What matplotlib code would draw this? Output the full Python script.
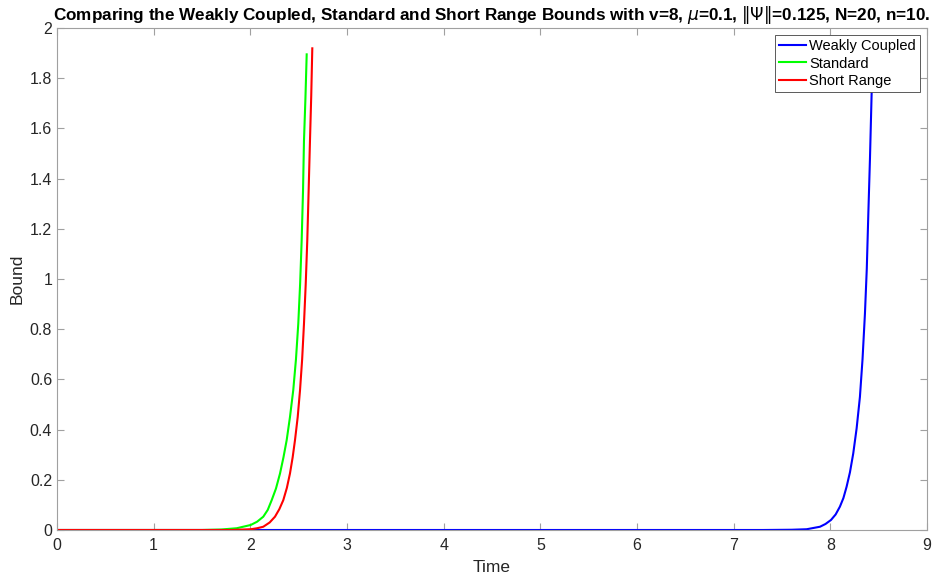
import matplotlib
matplotlib.use('Agg')
import matplotlib.pyplot as plt

# curve samples (time, bound)
std_t = [0, 1.5, 1.7, 1.859, 2.004, 2.07, 2.134, 2.18, 2.221, 2.265, 2.307, 2.343, 2.376, 2.41, 2.444, 2.472, 2.496, 2.515, 2.531, 2.545, 2.555, 2.57, 2.583]
std_b = [0, 0, 0.002, 0.007, 0.020, 0.033, 0.053, 0.08, 0.119, 0.165, 0.225, 0.29, 0.358, 0.45, 0.557, 0.68, 0.822, 0.98, 1.153, 1.35, 1.551, 1.72, 1.895]

sr_t = [0, 1.8, 2.004, 2.07, 2.134, 2.2, 2.255, 2.3, 2.341, 2.378, 2.41, 2.438, 2.462, 2.49, 2.514, 2.536, 2.555, 2.573, 2.589, 2.603, 2.617, 2.63, 2.641]
sr_b = [0, 0, 0.003, 0.007, 0.013, 0.03, 0.053, 0.083, 0.119, 0.168, 0.225, 0.29, 0.358, 0.45, 0.557, 0.68, 0.822, 0.98, 1.153, 1.35, 1.551, 1.73, 1.919]

wc_t = [0, 7.3, 7.6, 7.755, 7.893, 7.95, 8.007, 8.055, 8.099, 8.135, 8.168, 8.203, 8.237, 8.272, 8.306, 8.333, 8.358, 8.377, 8.393, 8.41, 8.427, 8.447]
wc_b = [0, 0, 0.001, 0.003, 0.013, 0.024, 0.040, 0.062, 0.093, 0.127, 0.172, 0.23, 0.305, 0.405, 0.530, 0.68, 0.862, 1.04, 1.259, 1.48, 1.736, 1.95]

labels = ['Weakly Coupled', 'Standard', 'Short Range']

plt.rcParams['font.family'] = ['Liberation Sans', 'DejaVu Sans']
plt.rcParams['mathtext.fontset'] = 'dejavusans'

fig = plt.figure(figsize=(9.4, 5.78), dpi=100)
ax = fig.add_axes([57 / 940, 48 / 578, 870 / 940, 502 / 578])

ax.plot(wc_t, wc_b, color='#0000ff', lw=1.5, label=labels[0])
ax.plot(std_t, std_b, color='#00ff00', lw=1.5, label=labels[1])
ax.plot(sr_t, sr_b, color='#ff0000', lw=1.5, label=labels[2])

ax.set_xlim(0, 9)
ax.set_ylim(0, 2)
ax.set_xticks(range(0, 10))
ax.set_yticks([0, 0.2, 0.4, 0.6, 0.8, 1, 1.2, 1.4, 1.6, 1.8, 2])
ax.set_yticklabels(['0', '0.2', '0.4', '0.6', '0.8', '1', '1.2', '1.4', '1.6', '1.8', '2'])

for s in ax.spines.values():
    s.set_color('#a0a0a0')
    s.set_linewidth(0.8)
ax.tick_params(direction='in', top=True, right=True, colors='#a0a0a0',
               labelcolor='#262626', labelsize=11.5, length=5, width=0.8)
ax.tick_params(axis='x', pad=6)

ax.set_xlabel('Time', fontsize=12.5, color='#262626', labelpad=5)
ax.set_ylabel('Bound', fontsize=12.5, color='#262626', labelpad=4)
ax.set_title(r'Comparing the Weakly Coupled, Standard and Short Range Bounds with v=8, $\mu$=0.1, $\|\Psi\|$=0.125, N=20, n=10.',
             fontsize=12.3, fontweight='bold', pad=6)

leg = ax.legend(loc='upper right', fontsize=10.5, frameon=True, fancybox=False,
                borderpad=0.25, labelspacing=0.25, handlelength=1.9, handletextpad=0.2,
                borderaxespad=0.5)
leg.get_frame().set_edgecolor('#404040')
leg.get_frame().set_linewidth(0.6)
leg.get_frame().set_alpha(1)

fig.savefig('out.png', dpi=100)
